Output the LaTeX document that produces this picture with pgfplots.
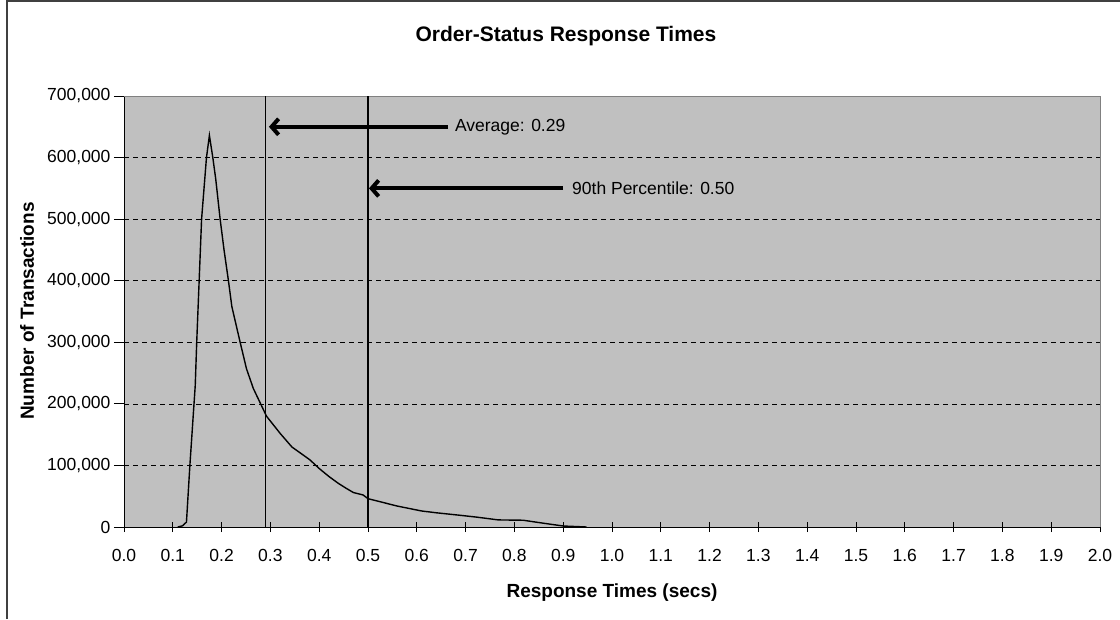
\documentclass[border=0pt]{standalone}
\usepackage{pgfplots}
\pgfplotsset{compat=1.18}
\usepackage{fontspec}
\setmainfont{Liberation Sans}
\usetikzlibrary{arrows.meta}
\definecolor{plotgray}{RGB}{192,192,192}
\definecolor{framegray}{RGB}{128,128,128}
\begin{document}
\begin{tikzpicture}
\path[use as bounding box] (0pt,0pt) rectangle (1120pt,619pt);
\draw[line width=1.2pt, black!75] (7pt,0pt) -- (7pt,618pt) -- (1120pt,618pt);
\node[font=\fontsize{21}{24}\selectfont\bfseries] at (566pt,583pt) {Order-Status Response Times};
\node[font=\fontsize{19}{22}\selectfont\bfseries, rotate=90] at (27pt,308pt) {Number of Transactions};
\node[font=\fontsize{19}{22}\selectfont\bfseries] at (612pt,26pt) {Response Times (secs)};
\begin{axis}[
  at={(124pt,92pt)}, anchor=south west, scale only axis,
  width=976pt, height=431pt,
  xmin=0, xmax=2, ymin=0, ymax=700000,
  axis lines=left, axis line style={-, black, line width=0.8pt},
  axis background/.style={fill=plotgray},
  xtick={0,0.1,0.2,0.3,0.4,0.5,0.6,0.7,0.8,0.9,1,1.1,1.2,1.3,1.4,1.5,1.6,1.7,1.8,1.9,2},
  xticklabels={0.0,0.1,0.2,0.3,0.4,0.5,0.6,0.7,0.8,0.9,1.0,1.1,1.2,1.3,1.4,1.5,1.6,1.7,1.8,1.9,2.0},
  ytick={0,100000,200000,300000,400000,500000,600000,700000},
  scaled y ticks=false,
  /pgf/number format/assume math mode=true,
  yticklabel style={/pgf/number format/.cd, fixed, 1000 sep={,}},
  tick label style={font=\fontsize{17.5}{20}\selectfont},
  xtick align=center, ytick align=outside,
  major tick length=10pt,
  tick style={black, line width=0.8pt},
  xticklabel style={yshift=-14pt},
  ymajorgrids,
  major grid style={black, line width=0.7pt, dash pattern=on 5pt off 4pt},
  clip=false,
]
\draw[framegray, line width=1pt] (rel axis cs:0,1) -- (rel axis cs:1,1) -- (rel axis cs:1,0);
\addplot[black, line width=1.4pt] coordinates {
(0.110,0) (0.120,2000) (0.128,8000) (0.135,100000) (0.146,230000)
(0.149,300000) (0.154,400000) (0.159,500000) (0.169,600000) (0.175,636000)
(0.182,600000) (0.188,565000) (0.197,500000) (0.205,450000) (0.214,400000)
(0.221,358000) (0.238,300000) (0.251,257000) (0.265,225000) (0.280,200000)
(0.292,180000) (0.300,172000) (0.320,152000) (0.344,130000) (0.367,117000)
(0.381,109000) (0.400,95000) (0.420,82000) (0.439,71000) (0.455,63000)
(0.470,56000) (0.490,52000) (0.500,46000) (0.530,40000) (0.560,34000)
(0.610,26000) (0.641,23000) (0.689,19000) (0.723,16000) (0.767,11500)
(0.818,11000) (0.852,7000) (0.900,1600) (0.948,0)
};
\addplot[black, line width=1.3pt] coordinates {(0.29,0) (0.29,700000)};
\addplot[black, line width=1.3pt] coordinates {(0.50,0) (0.50,700000)};
\draw[black, line width=4pt, -{Straight Barb[length=7pt,width=16pt]}] (axis cs:0.664,650000) -- (axis cs:0.297,650000);
\draw[black, line width=4pt, -{Straight Barb[length=7pt,width=16pt]}] (axis cs:0.900,550000) -- (axis cs:0.502,550000);
\node[anchor=west, inner sep=0pt, font=\fontsize{17.5}{20}\selectfont] at (axis cs:0.678,650000) {Average: 0.29};
\node[anchor=west, inner sep=0pt, font=\fontsize{17.5}{20}\selectfont] at (axis cs:0.918,550000) {90th Percentile: 0.50};
\end{axis}
\end{tikzpicture}
\end{document}
